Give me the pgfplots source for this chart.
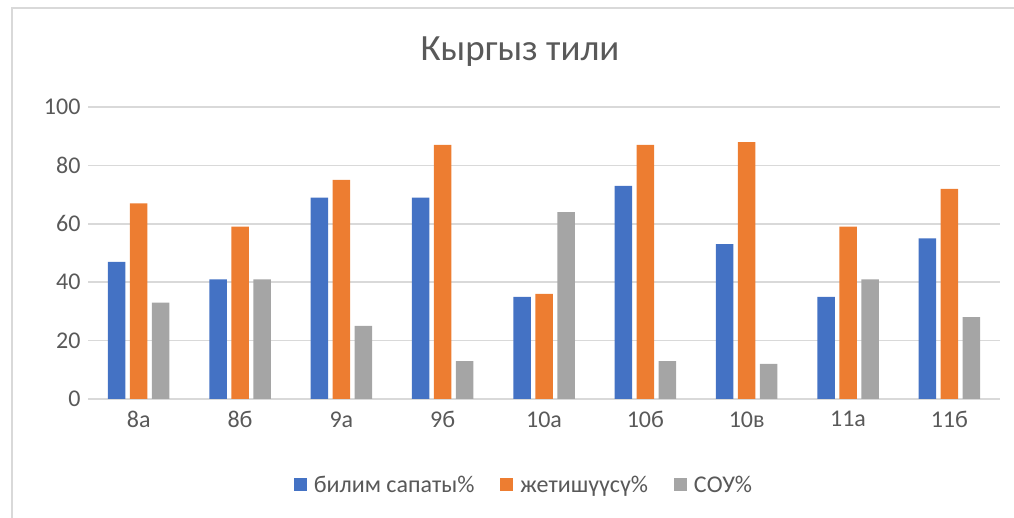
\documentclass[border=0pt]{standalone}
\usepackage{pgfplots}
\pgfplotsset{compat=1.18}
\usepackage{fontspec}
\setmainfont{Carlito}
\definecolor{cblue}{HTML}{4472C4}
\definecolor{corange}{HTML}{ED7D31}
\definecolor{cgray}{HTML}{A5A5A5}
\definecolor{gridc}{HTML}{D9D9D9}
\definecolor{txt}{HTML}{595959}
\begin{document}
\begin{tikzpicture}[x=1pt,y=1pt]
\path[use as bounding box] (0,0) rectangle (1014,518);
\draw[gridc,line width=2pt] (12,0) -- (12,510) -- (1014,510);
\node[txt,font=\fontsize{37}{44}\selectfont] at (520,466) {Кыргыз тили};
\begin{axis}[
  at={(88pt,119pt)}, anchor=south west,
  scale only axis, width=912pt, height=292pt,
  ybar=4.5pt, bar width=17.5pt,
  xmin=-0.5, xmax=8.5, ymin=0, ymax=100,
  xtick=data,
  xticklabels={8а,8б,9а,9б,10а,10б,10в,11а,11б},
  ytick={0,20,40,60,80,100},
  ymajorgrids, grid style={gridc,line width=1.5pt},
  axis x line*=bottom, axis y line*=left,
  y axis line style={draw=none},
  x axis line style={gridc,line width=1.5pt},
  major tick length=0pt,
  xtick style={draw=none}, ytick style={draw=none},
  ticklabel style={txt,font=\fontsize{24}{28}\selectfont},
  /pgf/number format/assume math mode=true,
  yticklabel style={xshift=-4pt},
  xticklabel style={yshift=-9pt},
  legend columns=3,
  legend style={at={(0.478,-0.2945)}, anchor=center, draw=none,
    font=\fontsize{24}{28}\selectfont, text=txt,
    /tikz/every odd column/.append style={column sep=5pt},
    /tikz/every even column/.append style={column sep=24pt}},
  legend image code/.code={\fill[#1] (0pt,-6.5pt) rectangle (13pt,6.5pt);},
]
\addplot[fill=cblue,draw=none] coordinates {(0,47) (1,41) (2,69) (3,69) (4,35) (5,73) (6,53) (7,35) (8,55)};
\addplot[fill=corange,draw=none] coordinates {(0,67) (1,59) (2,75) (3,87) (4,36) (5,87) (6,88) (7,59) (8,72)};
\addplot[fill=cgray,draw=none] coordinates {(0,33) (1,41) (2,25) (3,13) (4,64) (5,13) (6,12) (7,41) (8,28)};
\legend{билим сапаты\%, жетишүүсү\%, СОУ\%}
\end{axis}
\end{tikzpicture}
\end{document}
